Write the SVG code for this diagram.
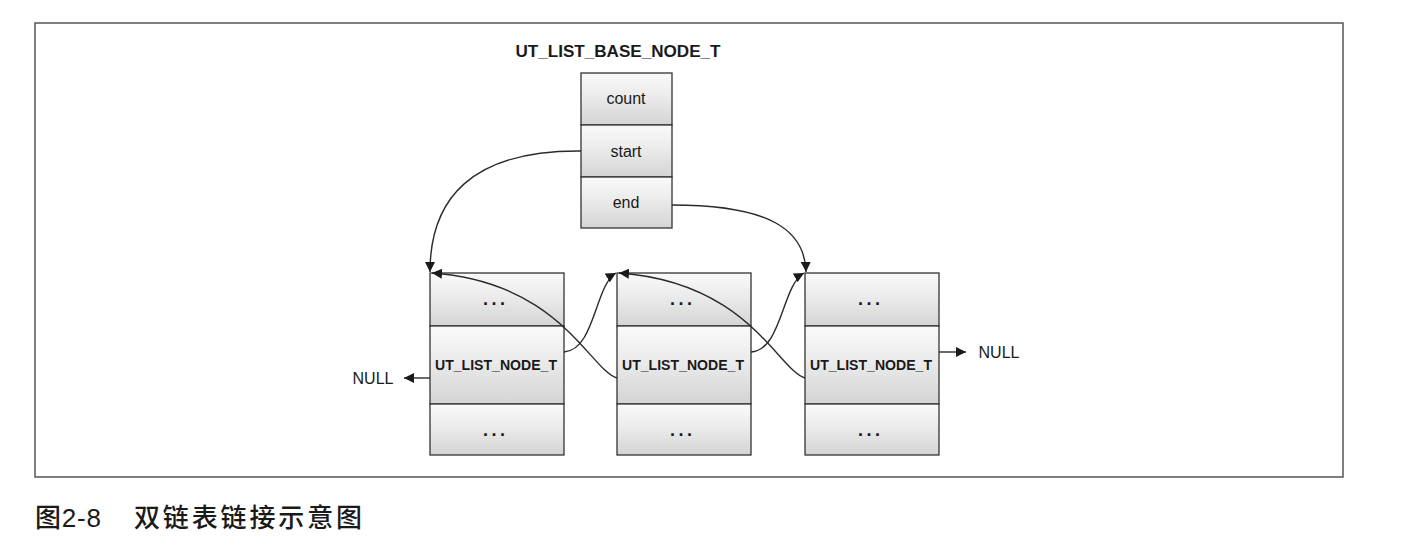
<svg xmlns="http://www.w3.org/2000/svg" width="1416" height="553" viewBox="0 0 1416 553">
  <defs>
    <linearGradient id="cellfill" x1="0" y1="0" x2="0" y2="1">
      <stop offset="0" stop-color="#fafafa"/>
      <stop offset="0.45" stop-color="#ebebeb"/>
      <stop offset="1" stop-color="#d4d4d4"/>
    </linearGradient>
    <marker id="arr" viewBox="0 0 10 10" refX="10" refY="5" markerWidth="10" markerHeight="10" markerUnits="userSpaceOnUse" orient="auto">
      <path d="M0,0 L10,5 L0,10 z" fill="#1a1a1a"/>
    </marker>
  </defs>
  <style>
    .frame { fill: #ffffff; stroke: #555555; stroke-width: 1.5; }
    .cell { fill: url(#cellfill); stroke: #333333; stroke-width: 1.3; }
    .lbl { font-family: "Liberation Sans", Arial, sans-serif; font-size: 16px; fill: #1a1a1a; text-anchor: middle; }
    .blbl { font-family: "Liberation Sans", Arial, sans-serif; font-weight: bold; font-size: 14px; fill: #1a1a1a; text-anchor: middle; }
    .dots { font-family: "Liberation Sans", Arial, sans-serif; font-weight: bold; font-size: 18px; fill: #1a1a1a; font-variant-ligatures: none; }
    .title { font-family: "Liberation Sans", Arial, sans-serif; font-weight: bold; font-size: 17px; fill: #1a1a1a; text-anchor: middle; }
    .caption { font-family: "Liberation Sans", "Noto Sans CJK SC", sans-serif; font-size: 26px; font-weight: 500; fill: #1a1a1a; }
    .conn { fill: none; stroke: #2a2a2a; stroke-width: 1.4; marker-end: url(#arr); }
  </style>

  <rect class="frame" x="35" y="23" width="1308" height="454"/>

  <g id="base-node">
    <text class="title" x="618" y="57" textLength="205" lengthAdjust="spacingAndGlyphs">UT_LIST_BASE_NODE_T</text>
    <rect class="cell" x="581" y="73" width="91" height="52"/>
    <rect class="cell" x="581" y="125" width="91" height="52"/>
    <rect class="cell" x="581" y="177" width="91" height="51"/>
    <text class="lbl" x="626" y="104">count</text>
    <text class="lbl" x="626" y="157">start</text>
    <text class="lbl" x="626" y="208">end</text>
  </g>

  <g id="node1">
    <rect class="cell" x="430" y="273" width="134" height="53"/>
    <rect class="cell" x="430" y="326" width="134" height="78"/>
    <rect class="cell" x="430" y="404" width="134" height="51"/>
    <text class="dots" x="483" y="305" textLength="22" lengthAdjust="spacing">...</text>
    <text class="blbl" x="496" y="370" textLength="122" lengthAdjust="spacingAndGlyphs">UT_LIST_NODE_T</text>
    <text class="dots" x="483" y="436" textLength="22" lengthAdjust="spacing">...</text>
  </g>

  <g id="node2">
    <rect class="cell" x="617" y="273" width="134" height="53"/>
    <rect class="cell" x="617" y="326" width="134" height="78"/>
    <rect class="cell" x="617" y="404" width="134" height="51"/>
    <text class="dots" x="670" y="305" textLength="22" lengthAdjust="spacing">...</text>
    <text class="blbl" x="683" y="370" textLength="122" lengthAdjust="spacingAndGlyphs">UT_LIST_NODE_T</text>
    <text class="dots" x="670" y="436" textLength="22" lengthAdjust="spacing">...</text>
  </g>

  <g id="node3">
    <rect class="cell" x="805" y="273" width="134" height="53"/>
    <rect class="cell" x="805" y="326" width="134" height="78"/>
    <rect class="cell" x="805" y="404" width="134" height="51"/>
    <text class="dots" x="858" y="305" textLength="22" lengthAdjust="spacing">...</text>
    <text class="blbl" x="871" y="370" textLength="122" lengthAdjust="spacingAndGlyphs">UT_LIST_NODE_T</text>
    <text class="dots" x="858" y="436" textLength="22" lengthAdjust="spacing">...</text>
  </g>

  <g id="null-left">
    <text class="lbl" x="373" y="384">NULL</text>
  </g>
  <g id="null-right">
    <text class="lbl" x="999" y="358">NULL</text>
  </g>

  <g id="connectors">
    <path class="conn" d="M581,151 C470,150 430,200 430,272"/>
    <path class="conn" d="M672,205 C770,205 805,230 806,272"/>
    <path class="conn" d="M564,352 C595,350 595,285 616,273"/>
    <path class="conn" d="M617,378 C590,370 560,282 432,273"/>
    <path class="conn" d="M751,352 C782,350 782,285 804,273"/>
    <path class="conn" d="M805,378 C778,370 748,282 619,273"/>
    <path class="conn" d="M430,378 L404,378"/>
    <path class="conn" d="M939,352 L966,352"/>
  </g>

  <text class="caption" x="35" y="527" textLength="66" lengthAdjust="spacing">图2-8</text>
  <text class="caption" x="134" y="527" textLength="228" lengthAdjust="spacing">双链表链接示意图</text>
</svg>
